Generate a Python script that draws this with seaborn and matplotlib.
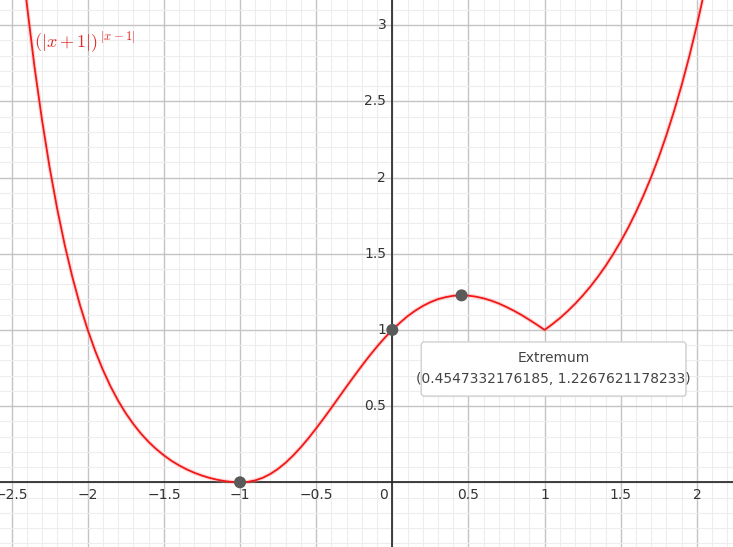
import matplotlib
matplotlib.use('Agg')
import matplotlib.pyplot as plt
import seaborn as sns
import numpy as np
from matplotlib.patches import FancyBboxPatch

# curve values
x_vals = [-2.45, -2.40, -2.35, -2.30, -2.25, -2.20, -2.15, -2.10, -2.05, -2.00,
          -1.95, -1.90, -1.85, -1.80, -1.75, -1.70, -1.65, -1.60, -1.55, -1.50,
          -1.45, -1.40, -1.35, -1.30, -1.25, -1.20, -1.15, -1.10, -1.05, -1.00,
          -0.95, -0.90, -0.85, -0.80, -0.75, -0.70, -0.65, -0.60, -0.55, -0.50,
          -0.45, -0.40, -0.35, -0.30, -0.25, -0.20, -0.15, -0.10, -0.05, 0.00,
          0.05, 0.10, 0.15, 0.20, 0.25, 0.30, 0.35, 0.40, 0.45, 0.50,
          0.55, 0.60, 0.65, 0.70, 0.75, 0.80, 0.85, 0.90, 0.95, 1.00,
          1.05, 1.10, 1.15, 1.20, 1.25, 1.30, 1.35, 1.40, 1.45, 1.50,
          1.55, 1.60, 1.65, 1.70, 1.75, 1.80, 1.85, 1.90, 1.95, 2.00,
          2.05, 2.10]
y_vals = [3.60, 3.14, 2.73, 2.377, 2.065, 1.792, 1.553, 1.344, 1.160, 1.000,
          0.860, 0.737, 0.629, 0.535, 0.453, 0.382, 0.319, 0.265, 0.218, 0.177,
          0.141, 0.111, 0.0848, 0.0627, 0.0442, 0.0290, 0.0169, 0.0079, 0.0021, 0.0,
          0.0029, 0.0126, 0.0299, 0.0552, 0.0884, 0.129, 0.177, 0.231, 0.290, 0.354,
          0.420, 0.489, 0.559, 0.629, 0.698, 0.765, 0.830, 0.891, 0.948, 1.000,
          1.047, 1.090, 1.126, 1.157, 1.182, 1.202, 1.215, 1.224, 1.2268, 1.225,
          1.218, 1.207, 1.192, 1.173, 1.150, 1.125, 1.097, 1.066, 1.034, 1.000,
          1.037, 1.077, 1.122, 1.171, 1.225, 1.284, 1.349, 1.419, 1.497, 1.581,
          1.673, 1.774, 1.884, 2.004, 2.135, 2.279, 2.436, 2.607, 2.795, 3.000,
          3.225, 3.471]

# marked points
pt_x = [-1.0, 0.0, 0.4547332176185]
pt_y = [0.0, 1.0, 1.2267621178233]

x_ticks = [-2.5, -2, -1.5, -1, -0.5, 0.5, 1, 1.5, 2]
x_tick_labels = ['\u22122.5', '\u22122', '\u22121.5', '\u22121', '\u22120.5', '0.5', '1', '1.5', '2']
y_ticks = [0.5, 1, 1.5, 2, 2.5, 3]
y_tick_labels = ['0.5', '1', '1.5', '2', '2.5', '3']

sns.set_theme(style='white')
plt.rcParams['font.family'] = ['DejaVu Sans']
plt.rcParams['mathtext.fontset'] = 'cm'

fig = plt.figure(figsize=(7.33, 5.47), dpi=100)
ax = fig.add_axes([0, 0, 1, 1])

# curve
sns.lineplot(x=x_vals, y=y_vals, sort=False, estimator=None, color='#ff9090',
             lw=3.0, alpha=0.35, ax=ax, zorder=3)
sns.lineplot(x=x_vals, y=y_vals, sort=False, estimator=None, color='#f01818',
             lw=1.3, ax=ax, zorder=4)
sns.scatterplot(x=pt_x, y=pt_y, s=75, color='#5a5a5a', edgecolor='none', ax=ax, zorder=5)

# grid
ax.set_xticks(np.arange(-2.5, 2.51, 0.5))
ax.set_yticks(np.arange(-0.5, 3.51, 0.5))
ax.set_xticks(np.arange(-2.6, 2.3, 0.1), minor=True)
ax.set_yticks(np.arange(-0.5, 3.2, 0.1), minor=True)
ax.set_xlim(-2.576, 2.237)
ax.set_ylim(-0.4245, 3.165)
ax.grid(True, which='major', color='#c4c4c4', lw=1.0, zorder=0)
ax.grid(True, which='minor', color='#ededed', lw=0.8, zorder=0)
ax.tick_params(which='both', length=0, labelbottom=False, labelleft=False)
for s in ax.spines.values():
    s.set_visible(False)
ax.axhline(0, color='#222222', lw=1.2, zorder=1)
ax.axvline(0, color='#222222', lw=1.2, zorder=1)

# tick labels along the axes
for v, t in zip(x_ticks, x_tick_labels):
    ax.text(v, -0.04, t, ha='center', va='top', fontsize=10, color='#333333', zorder=2)
ax.text(-0.03, -0.04, '0', ha='right', va='top', fontsize=10, color='#333333', zorder=2)
for v, t in zip(y_ticks, y_tick_labels):
    ax.text(-0.04, v, t, ha='right', va='center', fontsize=10, color='#333333', zorder=2)

ax.text(-2.35, 2.89, r'$(|x+1|)^{\,|x-1|}$', color='#e02828', fontsize=13, zorder=6,
        ha='left', va='center')

# tooltip box
box = FancyBboxPatch((0.19, 0.566), 1.738, 0.355, boxstyle='round,pad=0,rounding_size=0.02',
                     facecolor='white', edgecolor='#d0d0d0', lw=1.0, zorder=6)
shadow = FancyBboxPatch((0.195, 0.558), 1.738, 0.355, boxstyle='round,pad=0,rounding_size=0.02',
                        facecolor='#000000', edgecolor='none', alpha=0.06, zorder=5.5)
ax.add_patch(shadow)
ax.add_patch(box)
ax.text(1.058, 0.815, 'Extremum', ha='center', va='center', fontsize=10,
        color='#444444', zorder=7)
ax.text(1.058, 0.68, '(0.4547332176185, 1.2267621178233)', ha='center', va='center',
        fontsize=10, color='#444444', zorder=7)

if ax.get_legend() is not None:
    ax.get_legend().remove()

plt.savefig('out.png', dpi=100)
plt.close()
